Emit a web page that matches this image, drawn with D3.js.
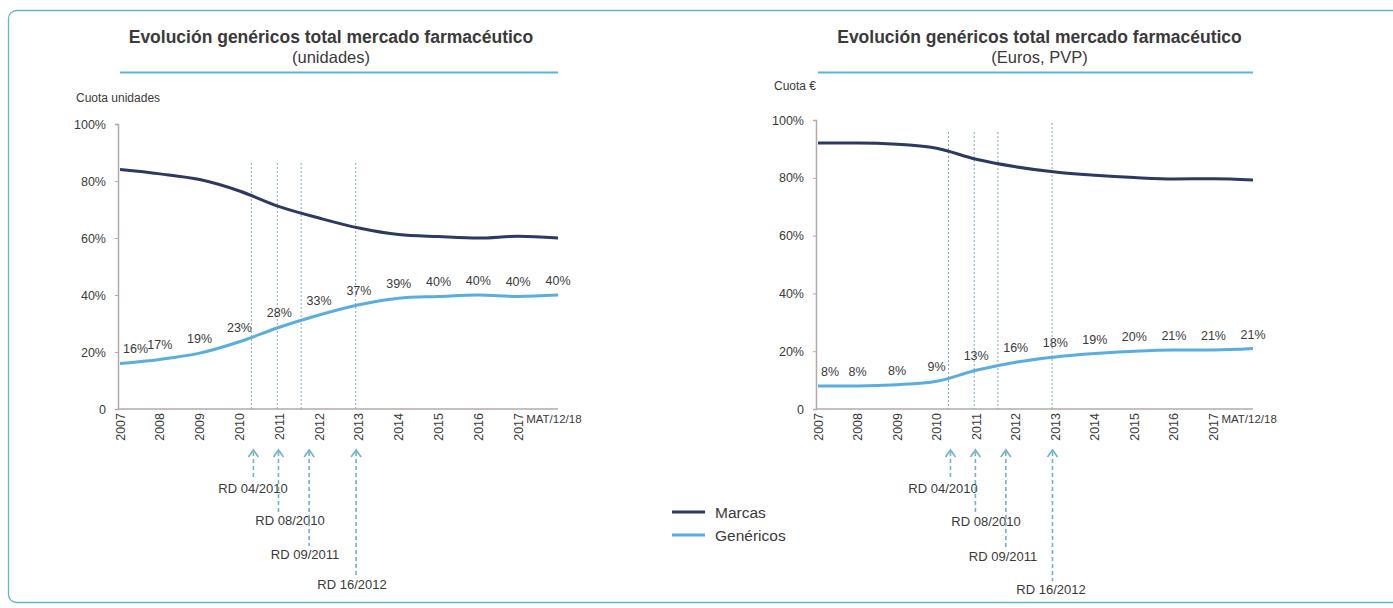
<!DOCTYPE html>
<html>
<head>
<meta charset="utf-8">
<script src="https://cdn.jsdelivr.net/npm/d3@7"></script>
<style>
  body { margin: 0; background: #fff; }
  svg { display: block; font-family: "Liberation Sans", Arial, sans-serif; }
</style>
</head>
<body>
<svg id="chart" width="1393" height="608"></svg>
<script>
// años (el último punto es el MAT dic-2018)
const years = [2007, 2008, 2009, 2010, 2011, 2012, 2013, 2014, 2015, 2016, 2017, 2018];
const yearTicks = ['2007', '2008', '2009', '2010', '2011', '2012', '2013', '2014', '2015', '2016', '2017'];
const matLabel = 'MAT/12/18';
const yTicks = [0, 20, 40, 60, 80, 100];

// cuota en unidades
const marcasUnid = [84, 82.5, 80.5, 76.5, 71, 67, 63.5, 61.2, 60.5, 60, 60.6, 60];
const genericosUnid = [16, 17.4, 19.6, 23.6, 28.7, 33, 36.6, 38.9, 39.5, 40, 39.5, 40];
const genericosUnidLbl = [16, 17, 19, 23, 28, 33, 37, 39, 40, 40, 40, 40];

// cuota en euros (PVP)
const marcasEur = [92, 92, 91.6, 90.2, 86.4, 83.8, 82, 80.9, 80.1, 79.6, 79.7, 79.2];
const genericosEur = [8, 8, 8.4, 9.6, 13.4, 16.2, 18, 19.2, 20, 20.4, 20.4, 20.9];
const genericosEurLbl = [8, 8, 8, 9, 13, 16, 18, 19, 20, 21, 21, 21];

// reales decretos (posición en años)
const rdNames = ['RD 04/2010', 'RD 08/2010', 'RD 09/2011', 'RD 16/2012'];
const rdLineYears = [2010.3, 2010.95, 2011.55, 2012.92];
const rdArrowYears = [2010.35, 2010.98, 2011.75, 2012.93];

const COLOR_MARCAS = '#2c3a62';
const COLOR_GEN = '#5aaedf';
const COLOR_RULE = '#5ab4e0';
const COLOR_AXIS = '#b5aaa8';
const COLOR_TEXT = '#3a3a3a';
const COLOR_RD = '#6fb3c6';

const svg = d3.select('#chart');

// marco exterior
svg.append('rect')
  .attr('x', 8.5).attr('y', 10.5)
  .attr('width', 1420).attr('height', 592)
  .attr('rx', 8)
  .attr('fill', 'none')
  .attr('stroke', '#5bb5d6')
  .attr('stroke-width', 1.3);

function drawPanel(cfg) {
  const { x0, x1, yTop, yBottom, titleShift, title, subtitle, cuota, cuotaY, marcas, genericos, labels,
    rdTops, rdLabelX, rdLabelY } = cfg;
  const g = svg.append('g');
  const x = d3.scaleLinear([2007, 2018], [x0, x1]);
  const y = d3.scaleLinear([0, 100], [yBottom, yTop]);
  const cx = (x0 + x1) / 2 + titleShift;

  // título
  g.append('text')
    .attr('x', cx).attr('y', 43)
    .attr('text-anchor', 'middle')
    .attr('font-size', 17.5).attr('font-weight', 'bold')
    .attr('fill', COLOR_TEXT)
    .text(title);
  g.append('text')
    .attr('x', cx).attr('y', 63)
    .attr('text-anchor', 'middle')
    .attr('font-size', 16.5)
    .attr('fill', COLOR_TEXT)
    .text(subtitle);
  g.append('line')
    .attr('x1', x0).attr('x2', x1)
    .attr('y1', 72.5).attr('y2', 72.5)
    .attr('stroke', COLOR_RULE).attr('stroke-width', 2);

  g.append('text')
    .attr('x', x0 - 44).attr('y', cuotaY)
    .attr('font-size', 12)
    .attr('fill', COLOR_TEXT)
    .text(cuota);

  // eje Y
  const yAxis = g.append('g')
    .attr('transform', `translate(${x0 - 2},0)`)
    .call(d3.axisLeft(y).tickValues(yTicks).tickSize(3).tickPadding(9)
      .tickFormat(d => d === 0 ? '0' : d + '%'));
  yAxis.select('.domain').attr('stroke', COLOR_AXIS).attr('stroke-width', 1.5);
  yAxis.selectAll('.tick line').attr('stroke', COLOR_AXIS);
  yAxis.selectAll('text').attr('font-size', 12.5).attr('fill', COLOR_TEXT)
    .attr('font-family', '"Liberation Sans", Arial, sans-serif');

  // eje X
  g.append('line')
    .attr('x1', x0 - 2).attr('x2', x1)
    .attr('y1', yBottom).attr('y2', yBottom)
    .attr('stroke', COLOR_AXIS).attr('stroke-width', 1.5);
  g.append('g')
    .selectAll('text')
    .data(yearTicks)
    .join('text')
      .attr('transform', d => `translate(${x(+d) + 4.5},${yBottom + 4}) rotate(-90)`)
      .attr('text-anchor', 'end')
      .attr('font-size', 12.5)
      .attr('fill', COLOR_TEXT)
      .text(d => d);
  g.append('text')
    .attr('x', x(2017) + 8).attr('y', yBottom + 14)
    .attr('font-size', 11.5)
    .attr('fill', COLOR_TEXT)
    .text(matLabel);

  // líneas verticales de los RD
  g.append('g')
    .selectAll('line')
    .data(rdLineYears)
    .join('line')
      .attr('x1', d => x(d)).attr('x2', d => x(d))
      .attr('y1', (d, i) => rdTops[i]).attr('y2', yBottom)
      .attr('stroke', '#7fa9bd').attr('stroke-width', 1)
      .attr('stroke-dasharray', '2,2');

  // series
  const line = d3.line()
    .x((d, i) => x(years[i]))
    .y(d => y(d))
    .curve(d3.curveMonotoneX);
  g.append('path')
    .datum(marcas)
    .attr('d', line)
    .attr('fill', 'none')
    .attr('stroke', COLOR_MARCAS).attr('stroke-width', 3);
  g.append('path')
    .datum(genericos)
    .attr('d', line)
    .attr('fill', 'none')
    .attr('stroke', COLOR_GEN).attr('stroke-width', 3);

  // etiquetas de genéricos
  g.append('g')
    .selectAll('text')
    .data(labels)
    .join('text')
      .attr('x', (d, i) => i === 0 ? x(years[i]) + 3 : x(years[i]))
      .attr('y', (d, i) => y(genericos[i]) - 10)
      .attr('text-anchor', (d, i) => i === 0 ? 'start' : 'middle')
      .attr('font-size', 12.5)
      .attr('fill', COLOR_TEXT)
      .text(d => d + '%');

  // flechas y nombres de los RD
  const rd = g.append('g')
    .selectAll('g')
    .data(rdArrowYears)
    .join('g');
  rd.append('path')
    .attr('d', d => `M${x(d) - 5},${457} L${x(d)},${450} L${x(d) + 5},${457}`)
    .attr('fill', 'none')
    .attr('stroke', COLOR_RD).attr('stroke-width', 1.6);
  rd.append('line')
    .attr('x1', d => x(d)).attr('x2', d => x(d))
    .attr('y1', 452).attr('y2', (d, i) => rdLabelY[i] - 13)
    .attr('stroke', COLOR_RD).attr('stroke-width', 1.6)
    .attr('stroke-dasharray', '4,3');
  rd.append('text')
    .attr('x', (d, i) => rdLabelX[i])
    .attr('y', (d, i) => rdLabelY[i])
    .attr('text-anchor', 'middle')
    .attr('font-size', 13)
    .attr('fill', COLOR_TEXT)
    .text((d, i) => rdNames[i]);
}

drawPanel({
  x0: 120, x1: 558, yTop: 124, yBottom: 409, titleShift: -8,
  title: 'Evolución genéricos total mercado farmacéutico',
  subtitle: '(unidades)',
  cuota: 'Cuota unidades', cuotaY: 102,
  marcas: marcasUnid, genericos: genericosUnid, labels: genericosUnidLbl,
  rdTops: [163, 163, 163, 163],
  rdLabelX: [253, 290, 305, 352],
  rdLabelY: [493, 525, 559, 589]
});

drawPanel({
  x0: 818, x1: 1253, yTop: 120, yBottom: 409, titleShift: 4,
  title: 'Evolución genéricos total mercado farmacéutico',
  subtitle: '(Euros, PVP)',
  cuota: 'Cuota €', cuotaY: 90,
  marcas: marcasEur, genericos: genericosEur, labels: genericosEurLbl,
  rdTops: [132, 132, 132, 123],
  rdLabelX: [943, 986, 1003, 1051],
  rdLabelY: [493, 526, 561, 594]
});

// leyenda
const legend = svg.append('g').attr('transform', 'translate(672,512)');
const legendItems = [['Marcas', COLOR_MARCAS], ['Genéricos', COLOR_GEN]];
const li = legend.selectAll('g')
  .data(legendItems)
  .join('g')
    .attr('transform', (d, i) => `translate(0,${i * 23})`);
li.append('line')
  .attr('x1', 0).attr('x2', 33)
  .attr('stroke', d => d[1]).attr('stroke-width', 3);
li.append('text')
  .attr('x', 43).attr('y', 5.5)
  .attr('font-size', 15.5)
  .attr('fill', COLOR_TEXT)
  .text(d => d[0]);
</script>
</body>
</html>
